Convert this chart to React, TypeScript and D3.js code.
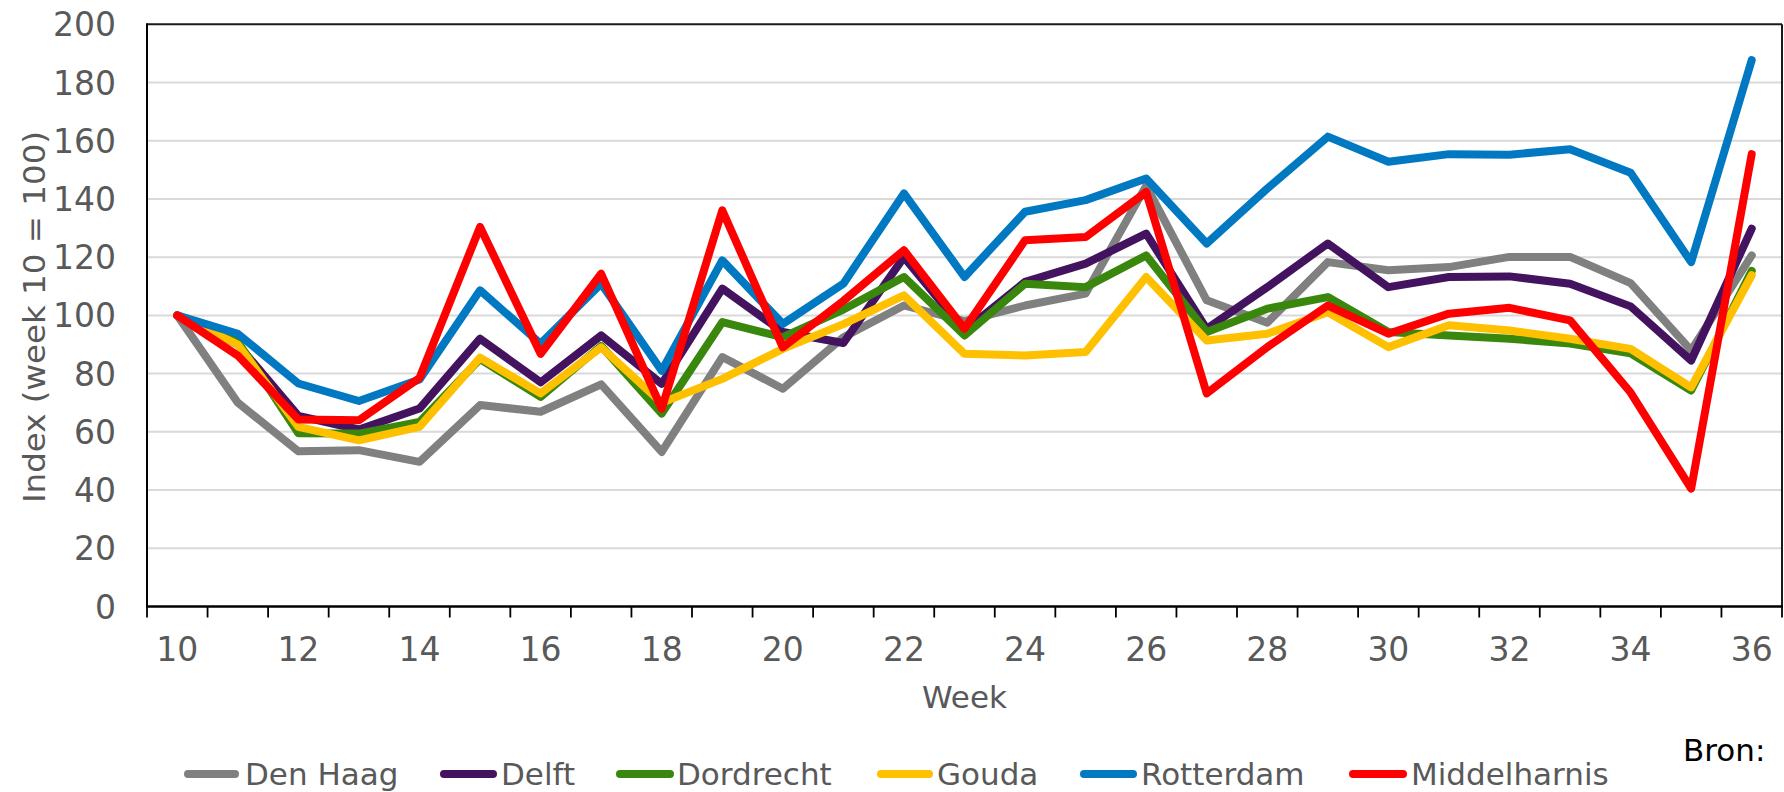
import React from "react";
import * as d3 from "d3";

const weeks = [10, 11, 12, 13, 14, 15, 16, 17, 18, 19, 20, 21, 22, 23, 24, 25, 26, 27, 28, 29, 30, 31, 32, 33, 34, 35, 36];

const denHaag = [100, 70, 53.3, 53.7, 49.7, 69.2, 66.9, 76.3, 53.1, 85.7, 74.8, 92.5, 103.4, 98, 103.4, 107.5, 144.5, 105.2, 97.5, 118.3, 115.5, 116.6, 120.1, 120.1, 111.1, 88, 120.6];
const delft = [100, 90, 65.5, 60.8, 68, 92, 77, 93.1, 76.5, 109.2, 94.3, 90.5, 120, 94.8, 111.5, 117.8, 128.1, 95.4, 109.7, 124.7, 109.7, 113.2, 113.4, 110.9, 103.1, 84.5, 129.8];
const dordrecht = [100, 91, 59.5, 59.4, 63.4, 85, 72, 89.5, 66.3, 97.7, 92.5, 102, 113.2, 93.1, 110.9, 109.7, 120.6, 94.3, 102.3, 106.3, 94.3, 93.1, 92, 90.3, 87, 74.2, 115.3];
const gouda = [100, 90, 61.7, 57.1, 61.7, 85.5, 73.2, 89, 70, 78.2, 88.5, 97, 106.9, 86.8, 86.2, 87.4, 113.2, 91.4, 93.7, 101.1, 89.1, 96.6, 94.8, 92, 88.5, 75.3, 113.8];
const rotterdam = [100, 93.7, 76.6, 70.6, 78, 108.6, 90.3, 110.9, 81, 118.9, 97.1, 110.9, 141.9, 113.2, 135.6, 139.6, 147, 124.7, 143.6, 161.4, 152.8, 155.4, 155.2, 157.1, 149, 118.3, 187.7];
const middelharnis = [100, 86.2, 64.2, 64, 78.5, 130.4, 86.8, 114.3, 68, 136.1, 89, 105, 122.4, 95.4, 125.8, 126.9, 142.4, 73.2, 89.1, 103.4, 93.7, 100.6, 102.6, 98.3, 73.5, 40.5, 155.4];

const seriesNames = ["Den Haag", "Delft", "Dordrecht", "Gouda", "Rotterdam", "Middelharnis"];
const seriesValues = [denHaag, delft, dordrecht, gouda, rotterdam, middelharnis];
const seriesColors = ["#808080", "#43135f", "#3a870d", "#ffc000", "#0079c2", "#ff0000"];

const yTicks = [0, 20, 40, 60, 80, 100, 120, 140, 160, 180, 200];
const xLabelWeeks = [10, 12, 14, 16, 18, 20, 22, 24, 26, 28, 30, 32, 34, 36];

const yTitle = "Index (week 10 = 100)";
const xTitle = "Week";
const sourceText = "Bron:";

const W = 1784;
const H = 792;
const L = 147;
const R = 1782;
const T = 24.3;
const B = 606.5;
const FONT = "'DejaVu Sans', Verdana, sans-serif";
const TXT = "#595959";

// legend layout (x of line start, line end, text start)
const legendPos = [
  [184, 239, 245],
  [440, 497, 501],
  [616, 674, 677],
  [877, 933, 937],
  [1080, 1137, 1141],
  [1349, 1407, 1411],
];

export default function App() {
  const x = d3.scaleBand<number>().domain(weeks).range([L, R]).padding(0);
  const y = d3.scaleLinear().domain([0, 200]).range([B, T]);
  const bw = x.bandwidth();
  const cx = (w: number) => (x(w) as number) + bw / 2;

  const line = d3
    .line<number>()
    .x((_, i) => cx(weeks[i]))
    .y((v) => y(v));

  const boundaries = weeks.map((w) => x(w) as number).concat([R]);

  return (
    <svg
      width={W}
      height={H}
      style={{ position: "absolute", left: 0, top: 0, background: "#fff" }}
      fontFamily={FONT}
    >
      <rect x={0} y={0} width={W} height={H} fill="#fff" />
      {/* gridlines */}
      {yTicks
        .filter((t) => t > 0 && t < 200)
        .map((t) => (
          <line key={t} x1={L} x2={R} y1={y(t)} y2={y(t)} stroke="#d9d9d9" strokeWidth={2} />
        ))}
      {/* plot border top/right */}
      <line x1={L} x2={R} y1={T} y2={T} stroke="#1a1a1a" strokeWidth={2} />
      <line x1={R} x2={R} y1={T} y2={B} stroke="#1a1a1a" strokeWidth={2} />
      {/* series */}
      {seriesValues.map((vals, i) => (
        <path
          key={seriesNames[i]}
          d={line(vals) || ""}
          fill="none"
          stroke={seriesColors[i]}
          strokeWidth={8}
          strokeLinejoin="round"
          strokeLinecap="round"
        />
      ))}
      {/* axes */}
      <line x1={L} x2={L} y1={T - 1} y2={B} stroke="#000" strokeWidth={2} />
      <line x1={L - 1} x2={R + 1} y1={B} y2={B} stroke="#000" strokeWidth={2.5} />
      {boundaries.map((bx, i) => (
        <line key={i} x1={bx} x2={bx} y1={B} y2={B + 11} stroke="#000" strokeWidth={1.8} />
      ))}
      {/* y tick labels */}
      {yTicks.map((t) => (
        <text key={t} x={116} y={y(t) + 12} textAnchor="end" fontSize={33} fill={TXT}>
          {t}
        </text>
      ))}
      {/* x tick labels */}
      {xLabelWeeks.map((w) => (
        <text key={w} x={cx(w)} y={661} textAnchor="middle" fontSize={33} fill={TXT}>
          {w}
        </text>
      ))}
      {/* titles */}
      <text
        transform={`translate(${45}, ${317}) rotate(-90)`}
        textAnchor="middle"
        fontSize={31}
        fill={TXT}
        textLength={372}
        lengthAdjust="spacingAndGlyphs"
      >
        {yTitle}
      </text>
      <text x={(L + R) / 2} y={708} textAnchor="middle" fontSize={31} fill={TXT}>
        {xTitle}
      </text>
      {/* legend */}
      {seriesNames.map((n, i) => (
        <g key={n}>
          <line
            x1={legendPos[i][0] + 4}
            x2={legendPos[i][1] - 4}
            y1={774}
            y2={774}
            stroke={seriesColors[i]}
            strokeWidth={8}
            strokeLinecap="round"
          />
          <text x={legendPos[i][2]} y={785} fontSize={31} fill={TXT}>
            {n}
          </text>
        </g>
      ))}
      <text x={1683} y={761} fontSize={31} fill="#000">
        {sourceText}
      </text>
    </svg>
  );
}
